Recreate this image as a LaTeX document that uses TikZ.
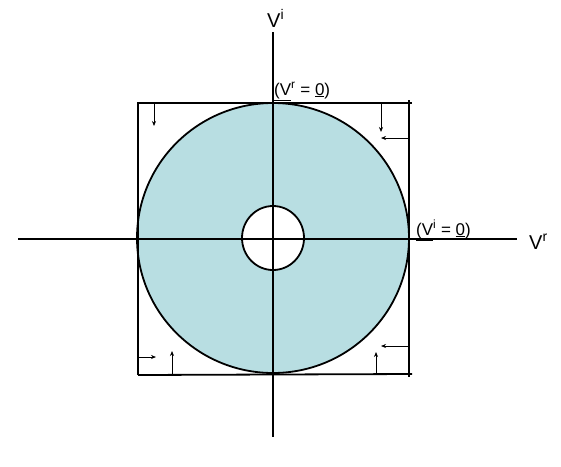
\documentclass[tikz,border=0pt]{standalone}
\usepackage{fontspec}
\setmainfont{Liberation Sans}
\usetikzlibrary{arrows.meta}
\definecolor{diskfill}{RGB}{184,222,226}
\begin{document}
\begin{tikzpicture}[x=1pt,y=-1pt,
  heavy/.style={line width=1.8pt},
  tick arrow/.style={line width=0.7pt,-{Stealth[length=5pt,width=4pt]}},
  axis label/.style={anchor=base west,inner sep=0pt,font=\fontsize{20}{20}\selectfont},
  zero label/.style={anchor=base west,inner sep=0pt,font=\fontsize{17}{17}\selectfont}]
\useasboundingbox (0,0) rectangle (561,466);
% disk
\fill[diskfill] (273,238) ellipse [x radius=136, y radius=135];
\fill[white] (273,238) ellipse [x radius=31, y radius=32];
\draw[heavy] (273,238) ellipse [x radius=136, y radius=135];
\draw[heavy] (273,238) ellipse [x radius=31, y radius=32];
% square
\coordinate (sqTL) at (138,103);
\coordinate (sqTR) at (412,103);
\coordinate (sqBL) at (138,375);
\coordinate (sqBR) at (412,374);
\coordinate (sqRT) at (409,100);
\coordinate (sqRB) at (409,377);
\draw[heavy] (sqBL) -- (sqTL) -- (sqTR);
\draw[heavy] (sqBL) -- (sqBR);
\draw[heavy] (sqRT) -- (sqRB);
% axes
\coordinate (axL) at (18,239);
\coordinate (axR) at (517,239);
\coordinate (axT) at (273,32);
\coordinate (axB) at (273,437);
\draw[heavy] (axL) -- (axR);
\draw[heavy] (axT) -- (axB);
% small arrows
\coordinate (a1s) at (154,104); \coordinate (a1e) at (154,126);
\coordinate (a2s) at (381,104); \coordinate (a2e) at (381,132);
\coordinate (a3s) at (409,138); \coordinate (a3e) at (381,138);
\coordinate (a4s) at (138,357); \coordinate (a4e) at (156,357);
\coordinate (a5s) at (172,374); \coordinate (a5e) at (172,351);
\coordinate (a6s) at (409,346); \coordinate (a6e) at (381,346);
\coordinate (a7s) at (376,373); \coordinate (a7e) at (376,352);
\draw[tick arrow] (a1s) -- (a1e);
\draw[tick arrow] (a2s) -- (a2e);
\draw[tick arrow] (a3s) -- (a3e);
\draw[tick arrow] (a4s) -- (a4e);
\draw[tick arrow] (a5s) -- (a5e);
\draw[tick arrow] (a6s) -- (a6e);
\draw[tick arrow] (a7s) -- (a7e);
% labels
\node[axis label] (vi) at (267,27) {V\textsuperscript{i}};
\node[axis label] (vr) at (529,249) {V\textsuperscript{r}};
\node[zero label] (vr0) at (274,95) {\underline{(V}\textsuperscript{r} = \underline{0})};
\node[zero label] (vi0) at (416,235) {\underline{(V}\textsuperscript{i} = \underline{0})};
\end{tikzpicture}
\end{document}
